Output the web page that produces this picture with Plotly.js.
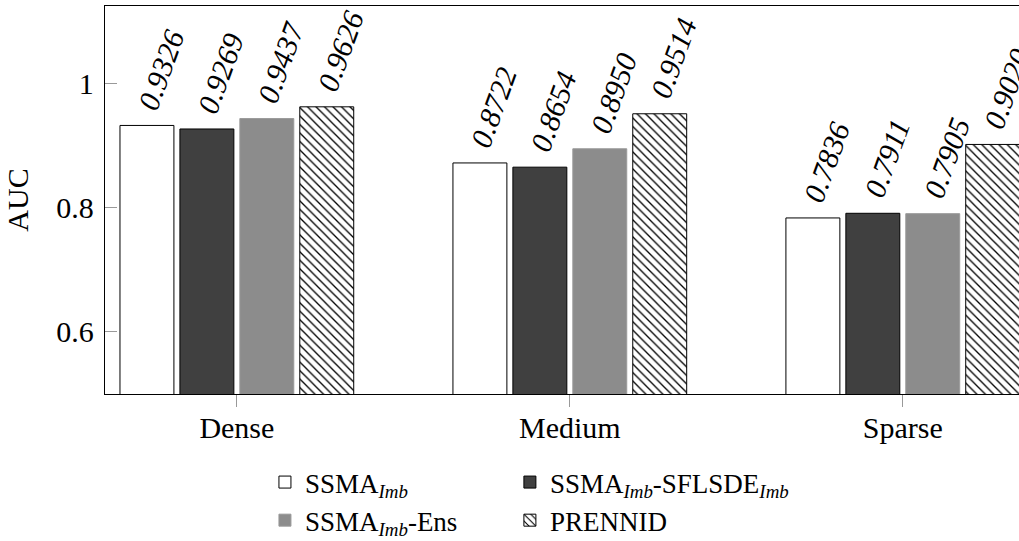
<!DOCTYPE html>
<html>
<head>
<meta charset="utf-8">
<script src="https://cdn.plot.ly/plotly-3.0.1.min.js"></script>
<style>html,body{margin:0;padding:0;background:#fff;overflow:hidden;}</style>
</head>
<body>
<div id="chart" style="width:1019px;height:541px;"></div>
<script>
const categories = ['Dense', 'Medium', 'Sparse'];
const seriesNames = [
  'SSMA<sub><i>Imb</i></sub>',
  'SSMA<sub><i>Imb</i></sub>-SFLSDE<sub><i>Imb</i></sub>',
  'SSMA<sub><i>Imb</i></sub>-Ens',
  'PRENNID'
];
const ssmaImb = [0.9326, 0.8722, 0.7836];
const ssmaImbSflsde = [0.9269, 0.8654, 0.7911];
const ssmaImbEns = [0.9437, 0.8950, 0.7905];
const prennid = [0.9626, 0.9514, 0.9020];
const yTickVals = [0.6, 0.8, 1];
const yTickText = ['0.6', '0.8', '1'];

const seriesValues = [ssmaImb, ssmaImbSflsde, ssmaImbEns, prennid];
const serif = 'Liberation Serif';
const styles = [
  {color: '#ffffff', line: '#000000', pattern: null, legend: 'legend'},
  {color: '#404040', line: '#000000', pattern: null, legend: 'legend2'},
  {color: '#8c8c8c', line: '#9a9a9a', pattern: null, legend: 'legend'},
  {color: '#ffffff', line: '#000000', pattern: {shape: '\\', fgcolor: '#000000', bgcolor: '#ffffff', size: 6, solidity: 0.22}, legend: 'legend2'}
];
const bargap = 0.28;
const slot = (1 - bargap) / seriesValues.length;

const traces = seriesValues.map((vals, j) => {
  const marker = {color: styles[j].color, line: {color: styles[j].line, width: 1}};
  if (styles[j].pattern) marker.pattern = styles[j].pattern;
  return {
    type: 'bar', x: categories, y: vals, name: seriesNames[j],
    marker: marker, legend: styles[j].legend, hoverinfo: 'skip'
  };
});

const annotations = [];
seriesValues.forEach((vals, j) => {
  vals.forEach((v, i) => {
    annotations.push({
      x: i + (j - (seriesValues.length - 1) / 2) * slot,
      y: v, xref: 'x', yref: 'y',
      text: v.toFixed(4),
      showarrow: false, textangle: -70,
      xanchor: 'center', yanchor: 'bottom',
      xshift: 14, yshift: 9,
      font: {family: serif, size: 30, color: '#000', style: 'italic'}
    });
  });
});

const layout = {
  width: 1019, height: 541,
  margin: {l: 105, r: 0, t: 6, b: 147, pad: 0, autoexpand: false},
  paper_bgcolor: '#fff', plot_bgcolor: '#fff',
  barmode: 'group', bargap: bargap, bargroupgap: 0.1,
  font: {family: serif, size: 30, color: '#000'},
  xaxis: {
    type: 'category', range: [-0.396, 2.349], automargin: false,
    showline: true, linecolor: '#000', linewidth: 1.2, mirror: true,
    ticks: 'outside', ticklen: 12, tickcolor: '#999', tickwidth: 1,
    ticklabelstandoff: -5,
    showgrid: false, zeroline: false,
    tickfont: {family: serif, size: 30, color: '#000'}
  },
  yaxis: {
    range: [0.5, 1.125], automargin: false,
    tickvals: yTickVals, ticktext: yTickText,
    showline: true, linecolor: '#000', linewidth: 1.2,
    ticks: 'inside', ticklen: 12, tickcolor: '#999', tickwidth: 1,
    ticklabelstandoff: 4,
    showgrid: false, zeroline: false,
    tickfont: {family: serif, size: 30, color: '#000'},
    title: {text: 'AUC', font: {family: serif, size: 30, color: '#000'}, standoff: 18}
  },
  showlegend: true,
  legend: {
    x: 0.175, xanchor: 'left', y: -0.165, yanchor: 'top', orientation: 'v',
    bgcolor: 'rgba(0,0,0,0)', borderwidth: 0, tracegroupgap: 0,
    font: {family: serif, size: 27, color: '#000'}
  },
  legend2: {
    x: 0.443, xanchor: 'left', y: -0.165, yanchor: 'top', orientation: 'v',
    bgcolor: 'rgba(0,0,0,0)', borderwidth: 0, tracegroupgap: 0,
    font: {family: serif, size: 27, color: '#000'}
  },
  annotations: annotations
};

Plotly.newPlot('chart', traces, layout, {staticPlot: true, displayModeBar: false});
</script>
</body>
</html>
